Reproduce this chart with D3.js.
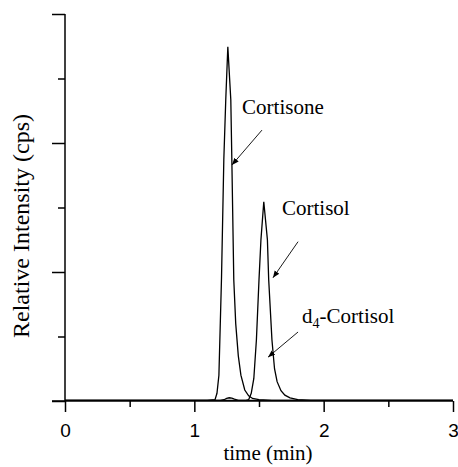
<!DOCTYPE html>
<html>
<head>
<meta charset="utf-8">
<script src="https://cdn.jsdelivr.net/npm/d3@7"></script>
<style>
  body { margin: 0; background: #fff; }
  .label { font-family: "Liberation Serif", "Times New Roman", serif; fill: #000; }
  .tick text { font-family: "Liberation Sans", Arial, sans-serif; font-size: 19px; fill: #000; }
  .trace { fill: none; stroke: #000; stroke-width: 1.3; }
</style>
</head>
<body>
<div id="chart"></div>
<script>
// x ticks and y ticks
const xTicks = [0, 1, 2, 3];
const xMinor = [0.5, 1.5, 2.5];
const yMajor = [0, 2, 4, 6];
const yMinor = [1, 3, 5];

// Cortisone trace (time in min, relative intensity)
const cortisoneTime = [0, 0.5, 1.0, 1.1, 1.16, 1.175, 1.19, 1.21, 1.228, 1.243, 1.259, 1.282, 1.29, 1.305, 1.32, 1.34, 1.36, 1.39, 1.42, 1.45, 1.5, 1.6, 2.0, 2.5, 3.0];
const cortisoneValue = [0.01, 0.01, 0.01, 0.01, 0.02, 0.12, 0.4, 1.9, 3.74, 4.67, 5.49, 4.67, 3.74, 1.88, 1.2, 0.7, 0.4, 0.17, 0.08, 0.04, 0.02, 0.01, 0.01, 0.01, 0.01];

// Cortisol trace
const cortisolTime = [0, 0.5, 1.0, 1.4, 1.42, 1.44, 1.46, 1.48, 1.5, 1.515, 1.537, 1.565, 1.575, 1.6, 1.62, 1.64, 1.67, 1.7, 1.74, 1.8, 1.9, 2.3, 3.0];
const cortisolValue = [0.01, 0.01, 0.01, 0.01, 0.02, 0.12, 0.35, 0.95, 1.88, 2.5, 3.09, 2.5, 1.88, 0.95, 0.5, 0.3, 0.16, 0.09, 0.05, 0.02, 0.01, 0.01, 0.01];

// d4-Cortisol trace
const d4Time = [0, 0.5, 1.0, 1.2, 1.23, 1.25, 1.27, 1.29, 1.31, 1.34, 1.6, 2.0, 3.0];
const d4Value = [0.01, 0.01, 0.01, 0.01, 0.02, 0.04, 0.05, 0.045, 0.03, 0.01, 0.01, 0.01, 0.01];

// annotations: label position and arrow start/end in data units
const annoText = ["Cortisone", "Cortisol", "d4-Cortisol"];
const annoLabel = [[1.369, 4.45], [1.678, 2.88], [1.833, 1.21]];
const annoFrom = [[1.523, 4.20], [1.802, 2.47], [1.802, 1.07]];
const annoTo = [[1.291, 3.66], [1.608, 1.91], [1.570, 0.68]];

const W = 458, H = 467;
const margin = {left: 65, right: 5, top: 14, bottom: 66};

const svg = d3.select("#chart").append("svg")
    .attr("width", W)
    .attr("height", H);

const x = d3.scaleLinear().domain([0, 3]).range([margin.left, W - margin.right]);
const y = d3.scaleLinear().domain([0, 6]).range([H - margin.bottom, margin.top]);

svg.append("defs").append("marker")
    .attr("id", "head")
    .attr("viewBox", "0 0 10 10")
    .attr("refX", 10).attr("refY", 5)
    .attr("markerWidth", 7).attr("markerHeight", 7)
    .attr("markerUnits", "userSpaceOnUse")
    .attr("orient", "auto")
  .append("path")
    .attr("d", "M0,1 L10,5 L0,9 Z")
    .attr("fill", "#000");

// traces
const line = d3.line().x(d => x(d[0])).y(d => y(d[1]));
[[cortisoneTime, cortisoneValue], [cortisolTime, cortisolValue], [d4Time, d4Value]].forEach(s => {
  const pts = s[0].map((t, i) => [t, s[1][i]]);
  svg.append("path").datum(pts).attr("class", "trace").attr("d", line);
});

// x axis
const gx = svg.append("g")
    .attr("transform", "translate(0," + y(0) + ")")
    .call(d3.axisBottom(x).tickValues(xTicks).tickFormat(d3.format("d")).tickSize(11).tickPadding(12).tickSizeOuter(0));
gx.select(".domain").remove();
gx.selectAll(".tick line").attr("stroke-width", 1.5);
svg.append("g")
    .attr("transform", "translate(0," + y(0) + ")")
    .call(d3.axisBottom(x).tickValues(xMinor).tickFormat("").tickSize(6).tickSizeOuter(0))
    .call(g => g.select(".domain").remove())
    .selectAll(".tick line").attr("stroke-width", 1.5);
svg.append("line")
    .attr("x1", margin.left - 13).attr("x2", x(3))
    .attr("y1", y(0)).attr("y2", y(0))
    .attr("stroke", "#000").attr("stroke-width", 1.5);

// y axis
svg.append("g")
    .attr("transform", "translate(" + x(0) + ",0)")
    .call(d3.axisLeft(y).tickValues(yMajor).tickFormat("").tickSize(13).tickSizeOuter(0))
    .call(g => g.select(".domain").remove())
    .selectAll(".tick line").attr("stroke-width", 1.5);
svg.append("g")
    .attr("transform", "translate(" + x(0) + ",0)")
    .call(d3.axisLeft(y).tickValues(yMinor).tickFormat("").tickSize(7).tickSizeOuter(0))
    .call(g => g.select(".domain").remove())
    .selectAll(".tick line").attr("stroke-width", 1.5);
svg.append("line")
    .attr("x1", x(0)).attr("x2", x(0))
    .attr("y1", y(0)).attr("y2", y(6))
    .attr("stroke", "#000").attr("stroke-width", 1.5);

// axis titles
svg.append("text")
    .attr("class", "label")
    .attr("x", (x(0) + x(3)) / 2 + 9)
    .attr("y", 460)
    .attr("text-anchor", "middle")
    .style("font-size", "21px")
    .text("time (min)");

svg.append("text")
    .attr("class", "label")
    .attr("transform", "translate(29," + 226 + ") rotate(-90)")
    .attr("text-anchor", "middle")
    .style("font-size", "24px")
    .text("Relative Intensity (cps)");

// annotations
annoText.forEach((txt, i) => {
  const t = svg.append("text")
      .attr("class", "label")
      .attr("x", x(annoLabel[i][0]))
      .attr("y", y(annoLabel[i][1]))
      .style("font-size", "21px");
  if (txt.startsWith("d4")) {
    t.append("tspan").text("d");
    t.append("tspan").attr("dy", 5).style("font-size", "14px").text("4");
    t.append("tspan").attr("dy", -5).text("-Cortisol");
  } else {
    t.text(txt);
  }
  svg.append("line")
      .attr("x1", x(annoFrom[i][0])).attr("y1", y(annoFrom[i][1]))
      .attr("x2", x(annoTo[i][0])).attr("y2", y(annoTo[i][1]))
      .attr("stroke", "#000").attr("stroke-width", 0.9)
      .attr("marker-end", "url(#head)");
});
</script>
</body>
</html>
